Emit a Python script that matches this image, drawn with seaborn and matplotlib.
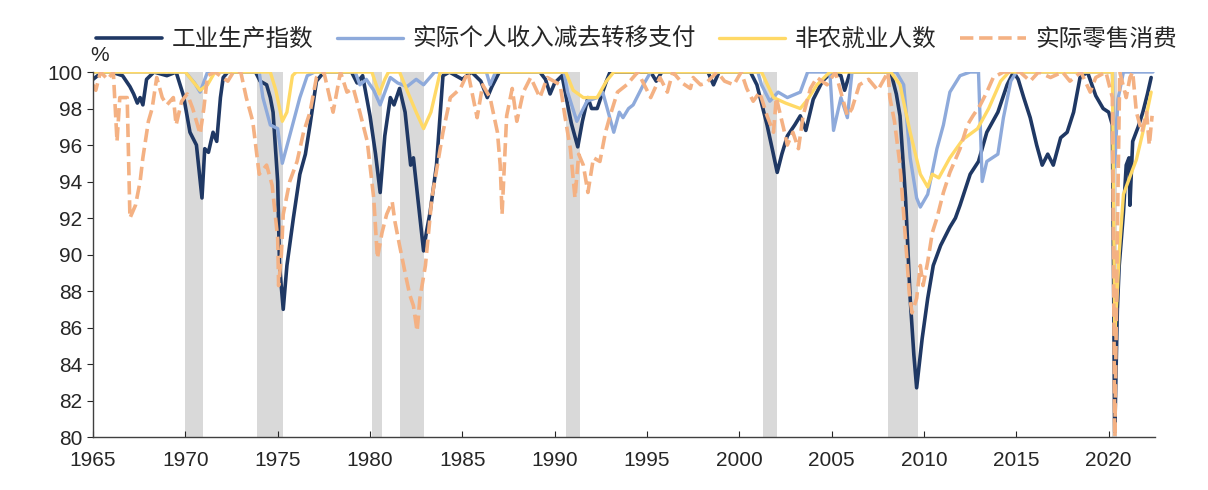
import numpy as np
import pandas as pd
import seaborn as sb
import matplotlib.pyplot as plt

sb.set_style("white")
plt.rcParams['font.family'] = ['Liberation Sans', 'Noto Sans CJK SC', 'DejaVu Sans']

# 工业生产指数 (industrial production, % of prior peak)
ip_year = [1965.0, 1965.5, 1966.0, 1966.6, 1967.0, 1967.2, 1967.4, 1967.55, 1967.7, 1967.9,
           1968.3, 1969.0, 1969.5, 1969.9, 1970.25, 1970.6, 1970.9, 1971.05, 1971.25, 1971.5,
           1971.7, 1971.9, 1972.05, 1972.3, 1973.8, 1974.05, 1974.4, 1974.6, 1974.75, 1975.0,
           1975.1, 1975.3, 1975.5, 1975.85, 1976.2, 1976.5, 1976.75, 1977.1, 1977.5, 1979.0,
           1979.3, 1979.6, 1980.0, 1980.3, 1980.55, 1980.8, 1981.1, 1981.3, 1981.6, 1981.9,
           1982.2, 1982.35, 1982.6, 1982.9, 1983.05, 1983.25, 1983.6, 1983.95, 1984.3, 1985.0,
           1985.5, 1986.0, 1986.35, 1986.6, 1987.0, 1989.2, 1989.5, 1989.75, 1990.0, 1990.4,
           1990.7, 1990.9, 1991.25, 1991.5, 1991.8, 1992.0, 1992.3, 1992.8, 1993.0, 1995.2,
           1995.5, 1995.8, 1998.3, 1998.6, 1998.9, 2000.6, 2000.95, 2001.2, 2001.5, 2001.8,
           2002.05, 2002.3, 2002.6, 2003.0, 2003.3, 2003.6, 2004.0, 2004.5, 2005.0, 2005.5,
           2005.7, 2006.0, 2008.2, 2008.5, 2008.7, 2009.0, 2009.25, 2009.45, 2009.6, 2009.9,
           2010.2, 2010.5, 2010.9, 2011.4, 2011.7, 2011.95, 2012.5, 2012.95, 2013.4, 2014.0,
           2014.5, 2014.85, 2015.1, 2015.4, 2015.75, 2016.1, 2016.4, 2016.7, 2017.0, 2017.4,
           2017.75, 2018.1, 2018.45, 2018.85, 2019.3, 2019.7, 2020.0, 2020.2, 2020.33, 2020.47,
           2020.57, 2020.8, 2020.95, 2021.1, 2021.15, 2021.3, 2021.6, 2021.85, 2022.1, 2022.3]
ip_val = [99.6, 100, 100, 99.8, 99.2, 98.8, 98.3, 98.6, 98.2, 99.6,
          100, 99.8, 100, 98.7, 96.7, 96.0, 93.1, 95.8, 95.6, 96.7,
          96.2, 98.6, 99.7, 100, 100, 99.5, 99.3, 98.6, 97.8, 94.0,
          89.4, 87.0, 89.4, 92.0, 94.4, 95.5, 97.1, 99.5, 100, 100,
          99.4, 99.8, 97.6, 95.5, 93.4, 96.5, 98.6, 98.2, 99.1, 97.8,
          94.9, 95.3, 93.0, 90.2, 91.2, 92.3, 94.9, 99.8, 100, 99.6,
          100, 99.5, 98.6, 99.2, 100, 100, 99.6, 98.8, 99.4, 99.8,
          98.2, 97.2, 95.9, 97.3, 98.6, 98.0, 98.0, 99.5, 100, 100,
          99.5, 100, 100, 99.3, 100, 100, 99.3, 98.3, 97.1, 95.7,
          94.5, 95.5, 96.5, 97.1, 97.6, 96.8, 98.5, 99.5, 100, 99.8,
          99.0, 100, 100, 98.8, 97.6, 93.1, 87.6, 84.5, 82.7, 85.4,
          87.6, 89.4, 90.5, 91.5, 92.0, 92.7, 94.4, 95.1, 96.7, 97.8,
          99.3, 100, 99.6, 98.6, 97.5, 96.0, 94.9, 95.5, 94.9, 96.4,
          96.7, 97.8, 99.7, 100, 98.7, 98.0, 97.8, 97.1, 80.3, 87.0,
          89.4, 92.3, 94.9, 95.3, 92.7, 96.2, 97.0, 97.8, 98.8, 99.7]

# 实际个人收入减去转移支付
inc_year = [1965.0, 1970.0, 1970.5, 1970.8, 1971.2, 1974.0, 1974.2, 1974.6, 1975.0, 1975.25,
            1975.7, 1976.2, 1976.6, 1977.0, 1979.2, 1979.45, 1979.8, 1980.2, 1980.55, 1981.1,
            1981.5, 1982.0, 1982.5, 1982.9, 1983.5, 1986.3, 1986.5, 1986.8, 1990.5, 1990.7,
            1991.2, 1991.75, 1992.3, 1992.6, 1992.9, 1993.2, 1993.5, 1993.7, 1994.0, 1994.25,
            1994.8, 1995.2, 2001.0, 2001.2, 2001.65, 2002.1, 2002.6, 2003.3, 2003.7, 2004.9,
            2005.1, 2005.5, 2005.85, 2006.1, 2008.5, 2008.9, 2009.25, 2009.6, 2009.8, 2010.2,
            2010.7, 2011.05, 2011.4, 2011.95, 2012.5, 2012.95, 2013.15, 2013.4, 2014.0, 2014.3,
            2014.7, 2015.0, 2020.2, 2020.33, 2020.5, 2020.8, 2022.4]
inc_val = [100, 100, 99.4, 98.9, 100, 100, 98.6, 97.1, 96.9, 95.0,
           96.7, 98.6, 99.8, 100, 100, 99.3, 99.6, 99.0, 98.2, 99.7,
           99.4, 99.2, 99.6, 99.3, 100, 100, 99.3, 100, 100, 98.9,
           97.3, 98.4, 98.6, 98.9, 97.8, 96.7, 97.8, 97.5, 98.0, 98.2,
           99.3, 100, 100, 99.3, 98.4, 98.9, 98.6, 98.9, 100, 100,
           96.8, 98.6, 97.5, 100, 100, 99.3, 95.3, 93.1, 92.6, 93.3,
           95.8, 97.1, 98.9, 99.8, 100, 100, 94.0, 95.1, 95.5, 97.5,
           99.5, 100, 100, 94.8, 98.5, 100, 100]

# 非农就业人数
emp_year = [1965.0, 1970.0, 1970.4, 1970.8, 1971.2, 1971.6, 1974.6, 1974.9, 1975.25, 1975.5,
            1975.8, 1976.0, 1980.1, 1980.5, 1980.8, 1981.0, 1981.6, 1982.0, 1982.5, 1982.9,
            1983.3, 1983.8, 1990.6, 1991.0, 1991.55, 1992.3, 1992.8, 1993.2, 2001.2, 2001.85,
            2002.5, 2003.3, 2003.7, 2004.2, 2004.9, 2008.2, 2008.7, 2009.25, 2009.8, 2010.2,
            2010.45, 2010.8, 2011.4, 2012.1, 2012.9, 2013.5, 2014.15, 2014.6, 2020.2, 2020.33,
            2020.47, 2020.57, 2020.8, 2021.2, 2021.5, 2021.85, 2022.3]
emp_val = [100, 100, 99.5, 99.0, 99.3, 100, 100, 99.0, 97.3, 97.8,
           99.8, 100, 100, 98.8, 99.6, 100, 100, 99.0, 97.8, 96.9,
           97.8, 100, 100, 99.0, 98.6, 98.6, 99.5, 100, 100, 98.6,
           98.3, 98.0, 98.5, 99.3, 100, 100, 99.3, 96.7, 94.4, 93.7,
           94.4, 94.2, 95.3, 96.3, 96.9, 98.0, 99.5, 100, 100, 85.6,
           88.0, 90.1, 93.3, 94.4, 95.2, 96.7, 98.9]

# 实际零售消费
ret_year = [1965.0, 1965.15, 1965.4, 1965.8, 1966.1, 1966.3, 1966.45, 1966.85, 1967.0, 1967.3,
            1967.55, 1967.7, 1968.0, 1968.2, 1968.45, 1968.75, 1969.0, 1969.35, 1969.5, 1969.8,
            1970.1, 1970.4, 1970.8, 1971.0, 1971.2, 1971.6, 1972.3, 1972.6, 1973.0, 1973.3,
            1973.65, 1974.0, 1974.4, 1974.7, 1975.0, 1975.05, 1975.2, 1975.3, 1975.65, 1976.05,
            1976.4, 1976.75, 1977.1, 1977.5, 1978.0, 1978.4, 1978.75, 1979.1, 1979.45, 1979.85,
            1980.2, 1980.4, 1980.65, 1980.9, 1981.2, 1981.35, 1981.6, 1981.9, 1982.15, 1982.35,
            1982.55, 1982.7, 1983.0, 1983.35, 1983.65, 1983.95, 1984.35, 1984.9, 1985.3, 1985.8,
            1986.1, 1986.5, 1986.9, 1987.05, 1987.15, 1987.4, 1987.7, 1987.95, 1988.3, 1988.7,
            1989.2, 1989.6, 1990.3, 1990.55, 1990.85, 1991.1, 1991.3, 1991.55, 1991.8, 1992.1,
            1992.45, 1992.75, 1993.0, 1993.4, 1993.9, 1994.5, 1995.2, 1995.7, 1996.1, 1996.4,
            1996.9, 1997.35, 1997.5, 1997.9, 1998.2, 1998.8, 1999.2, 1999.7, 2000.1, 2000.4,
            2000.75, 2001.1, 2001.5, 2001.85, 2002.0, 2002.4, 2002.6, 2002.9, 2003.2, 2003.45,
            2003.85, 2004.2, 2004.75, 2005.2, 2005.85, 2006.1, 2006.5, 2007.0, 2007.5, 2008.05,
            2008.15, 2008.4, 2008.7, 2008.9, 2009.1, 2009.2, 2009.35, 2009.6, 2009.8, 2009.95,
            2010.2, 2010.45, 2010.7, 2011.05, 2011.4, 2011.95, 2012.35, 2012.65, 2013.05, 2013.4,
            2013.75, 2014.3, 2015.2, 2015.75, 2016.2, 2016.85, 2017.5, 2017.9, 2018.5, 2019.0,
            2019.3, 2019.85, 2020.2, 2020.33, 2020.47, 2020.6, 2020.95, 2021.15, 2021.3, 2021.5,
            2021.8, 2022.05, 2022.2, 2022.35]
ret_val = [99.3, 99.0, 100, 99.6, 100, 96.2, 98.6, 98.6, 92.0, 92.7,
           94.0, 95.3, 97.3, 98.0, 99.7, 98.6, 98.2, 98.6, 97.1, 98.4,
           98.8, 98.0, 96.6, 98.0, 99.8, 100, 99.5, 100, 100, 98.6,
           97.3, 94.4, 94.9, 93.8, 90.9, 88.3, 90.0, 92.2, 94.0, 95.1,
           96.7, 97.8, 99.7, 100, 97.8, 100, 98.9, 99.1, 97.8, 96.2,
           93.1, 89.8, 91.2, 92.2, 92.9, 91.8, 90.5, 89.0, 87.8, 87.2,
           85.8, 87.6, 89.4, 93.1, 94.9, 96.7, 98.6, 99.1, 100, 97.5,
           99.3, 98.6, 96.7, 94.9, 92.2, 97.6, 99.1, 97.3, 98.9, 99.7,
           98.6, 99.7, 99.3, 97.6, 95.8, 93.1, 95.5, 94.9, 93.4, 95.3,
           95.1, 96.7, 97.6, 98.9, 99.3, 100, 98.6, 99.7, 98.9, 100,
           99.4, 99.1, 99.7, 99.3, 99.4, 100, 99.5, 99.3, 100, 99.1,
           98.4, 98.9, 97.6, 96.7, 98.6, 96.9, 96.0, 96.7, 95.8, 97.6,
           99.1, 99.7, 99.3, 100, 97.6, 98.0, 99.3, 99.6, 99.0, 100,
           98.6, 97.3, 94.9, 92.2, 89.4, 87.9, 86.8, 87.6, 89.4, 88.3,
           89.6, 91.2, 92.0, 93.4, 94.5, 95.8, 97.1, 97.6, 98.2, 98.9,
           99.7, 100, 100, 99.5, 100, 99.7, 100, 99.5, 100, 98.9,
           99.7, 100, 98.6, 79.5, 91.2, 100, 98.6, 99.7, 100, 97.8,
           96.7, 97.8, 96.0, 97.6]

# 衰退期 (shaded)
rec_start = [1969.98, 1973.88, 1980.11, 1981.63, 1990.62, 2001.29, 2008.07, 2020.17]
rec_end = [1970.96, 1975.29, 1980.65, 1982.93, 1991.38, 2002.05, 2009.69, 2020.45]

fig = plt.figure(figsize=(12.08, 4.9), dpi=100)
ax = fig.add_axes([0.077, 0.108, 0.879, 0.745])

for s, e in zip(rec_start, rec_end):
    ax.axvspan(s, e, color='#d9d9d9', lw=0, zorder=0)

sb.lineplot(x=ip_year, y=ip_val, ax=ax, color='#1f3864', lw=2.6, label='工业生产指数')
sb.lineplot(x=inc_year, y=inc_val, ax=ax, color='#8eaadb', lw=2.4, label='实际个人收入减去转移支付')
sb.lineplot(x=emp_year, y=emp_val, ax=ax, color='#ffd966', lw=2.4, label='非农就业人数')
sb.lineplot(x=ret_year, y=ret_val, ax=ax, color='#f4b183', lw=2.6, linestyle='--',
            dashes=(3, 1.6), label='实际零售消费')

ax.set_xlim(1965, 2022.5)
ax.set_ylim(80, 100)
ax.set_xticks(range(1965, 2021, 5))
ax.set_yticks(range(80, 101, 2))
ax.tick_params(axis='x', direction='in', length=4, labelsize=15, pad=10, bottom=True)
ax.tick_params(axis='y', direction='out', length=4, labelsize=15, left=True)
for sp in ['top', 'right']:
    ax.spines[sp].set_visible(False)
for sp in ['left', 'bottom']:
    ax.spines[sp].set_color('#404040')
    ax.spines[sp].set_linewidth(1.0)
ax.set_xlabel('')
ax.set_ylabel('')
ax.text(-0.003, 1.02, '%', transform=ax.transAxes, fontsize=15, ha='left', va='bottom')

ax.legend(loc='center', bbox_to_anchor=(0.527, 0.918), bbox_transform=fig.transFigure,
          ncol=4, frameon=False, fontsize=17, handlelength=2.8, columnspacing=1.0,
          handletextpad=0.4)

plt.savefig('out.png', dpi=100)
